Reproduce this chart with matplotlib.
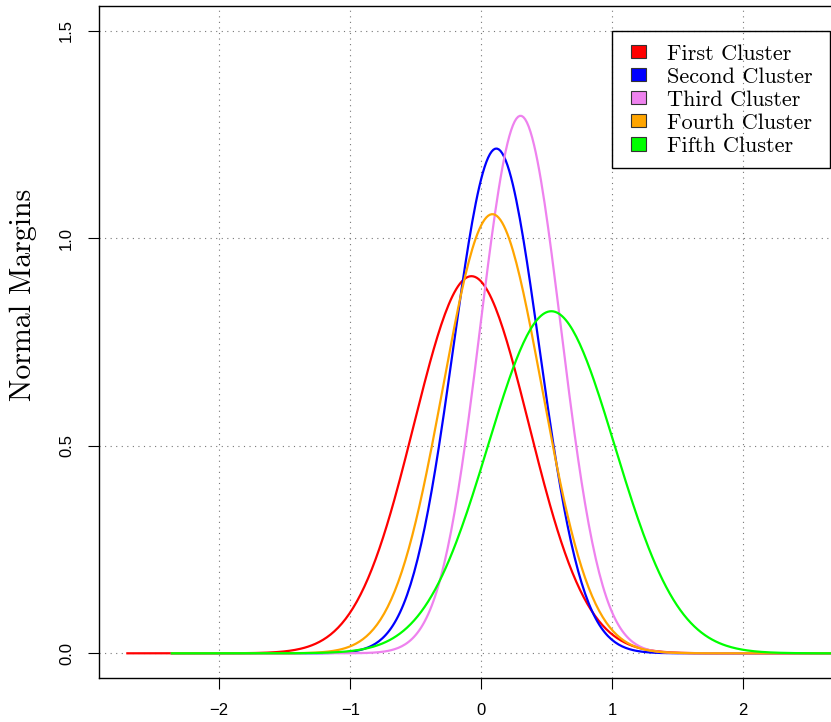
import numpy as np
import matplotlib
matplotlib.use("Agg")
import matplotlib.pyplot as plt
from matplotlib.patches import Patch, Rectangle

# === Données ===
labels = ["First Cluster", "Second Cluster", "Third Cluster", "Fourth Cluster", "Fifth Cluster"]
colors = ["#FF0000", "#0000FF", "#EE82EE", "#FFA500", "#00FF00"]
means = [-0.075, 0.115, 0.300, 0.085, 0.535]
sds = [0.439, 0.328, 0.308, 0.377, 0.484]
x_start = [-2.71, -2.37, -2.37, -2.37, -2.37]
x_end = 3.0
xticks = [-2, -1, 0, 1, 2]
yticks = [0.0, 0.5, 1.0, 1.5]

W, H = 831, 722
fig = plt.figure(figsize=(W / 100, H / 100), dpi=100)
# bord gauche 99px, bas 678px, haut 6px, à droite coupé par l'image
ax = fig.add_axes([99 / W, (H - 678) / H, (W - 99) / W + 0.2, (678 - 6) / H])

for lab, c, m, s, x0 in zip(labels, colors, means, sds, x_start):
    x = np.linspace(x0, x_end, 400)
    y = np.exp(-0.5 * ((x - m) / s) ** 2) / (s * np.sqrt(2 * np.pi))
    ax.plot(x, y, color=c, lw=1.6, solid_capstyle="butt")

# axes en pixels : 131 px par unité en x, 415 px par unité en y
ax.set_xlim(-2.918, -2.918 + (W - 99) / 131 + 0.2 * W / 131)
ax.set_ylim(-0.0595, -0.0595 + (678 - 6) / 415)

ax.set_xticks(xticks)
ax.set_xticklabels(["\u22122", "\u22121", "0", "1", "2"])
ax.set_yticks(yticks)
ax.set_yticklabels([f"{v:.1f}" for v in yticks], rotation=90, va="center")
ax.tick_params(direction="out", length=8, width=0.8, labelsize=12, pad=10)
for t in ax.get_xticklabels() + ax.get_yticklabels():
    t.set_family("Liberation Sans")

ax.grid(True, color="#777777", linestyle=(0, (1, 4)), lw=0.8)
ax.set_axisbelow(True)
for sp in ax.spines.values():
    sp.set_linewidth(1.0)
    sp.set_color("black")

fig.text(23 / W, 1 - 295 / H, "Normal Margins", rotation=90, ha="center", va="center",
         family="cmr10", fontsize=21.5)

# cadre de la légende (style R : fond transparent, marges larges)
fig.patches.append(Rectangle((612 / W, 1 - 168 / H), 218 / W, (168 - 30.7) / H,
                             transform=fig.transFigure, facecolor="none",
                             edgecolor="black", lw=1.0, zorder=3))

handles = [Patch(facecolor=c, edgecolor="#333333", lw=0.8) for c in colors]
leg = fig.legend(handles, labels, loc="upper left",
                 bbox_to_anchor=(631 / W, 1 - 44 / H), bbox_transform=fig.transFigure,
                 borderaxespad=0, borderpad=0, frameon=False,
                 prop={"family": "cmr10", "size": 16}, handlelength=0.68, handleheight=0.54,
                 handletextpad=0.95, labelspacing=0.16)
leg.set_zorder(4)

fig.savefig("out.png", dpi=100)
